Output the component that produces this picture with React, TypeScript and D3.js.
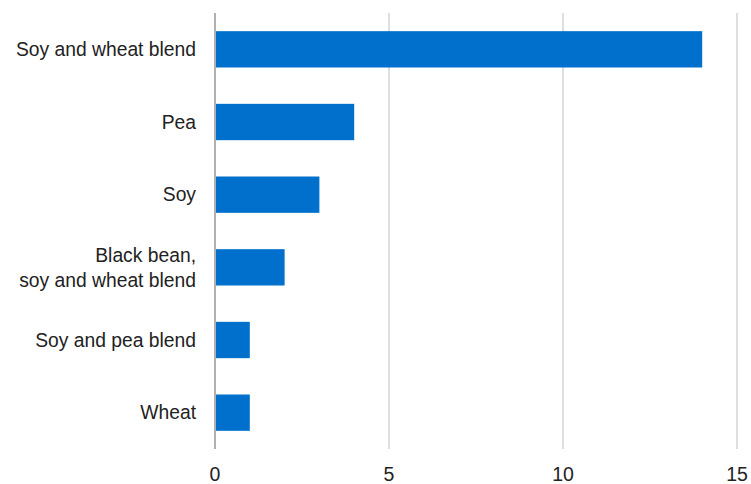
import React from "react";
import * as d3 from "d3";

const categories: string[][] = [
  ["Soy and wheat blend"],
  ["Pea"],
  ["Soy"],
  ["Black bean,", "soy and wheat blend"],
  ["Soy and pea blend"],
  ["Wheat"],
];
const values: number[] = [14, 4, 3, 2, 1, 1];
const ticks: number[] = [0, 5, 10, 15];

const W = 751;
const H = 484;
const FONT = "'Liberation Sans', Arial, Helvetica, sans-serif";

export default function App() {
  const x = d3.scaleLinear().domain([0, 15]).range([215, 737]);
  const keys = categories.map((c) => c.join(" "));
  const y = d3.scaleBand<string>().domain(keys).range([13, 449]).paddingInner(0.5).paddingOuter(0.25);

  return (
    <div style={{ position: "absolute", left: 0, top: 0 }}>
      <svg width={W} height={H} style={{ display: "block" }}>
        <rect width={W} height={H} fill="#fff" />
        {ticks.map((t) => (
          <g key={t}>
            {t !== 0 && (
              <line x1={x(t)} x2={x(t)} y1={13} y2={449} stroke="#c9c9c9" strokeWidth={1.2} />
            )}
            <text
              x={x(t)}
              y={481}
              textAnchor="middle"
              fontFamily={FONT}
              fontSize={19.5}
              fill="#222"
            >
              {t}
            </text>
          </g>
        ))}
        {keys.map((k, i) => (
          <rect
            key={k}
            x={x(0)}
            y={y(k)!}
            width={x(values[i]) - x(0)}
            height={y.bandwidth()}
            fill="#0070cc"
          />
        ))}
        <line x1={x(0)} x2={x(0)} y1={13} y2={449} stroke="#b0b0b0" strokeWidth={2} />
        {keys.map((k, i) => {
          const lines = categories[i];
          const cy = y(k)! + y.bandwidth() / 2;
          const lh = 25;
          return (
            <text
              key={k}
              textAnchor="end"
              fontFamily={FONT}
              fontSize={19.3}
              fill="#222"
            >
              {lines.map((l, j) => (
                <tspan key={j} x={196} y={cy + (j - (lines.length - 1) / 2) * lh} dy="0.35em">
                  {l}
                </tspan>
              ))}
            </text>
          );
        })}
      </svg>
    </div>
  );
}
